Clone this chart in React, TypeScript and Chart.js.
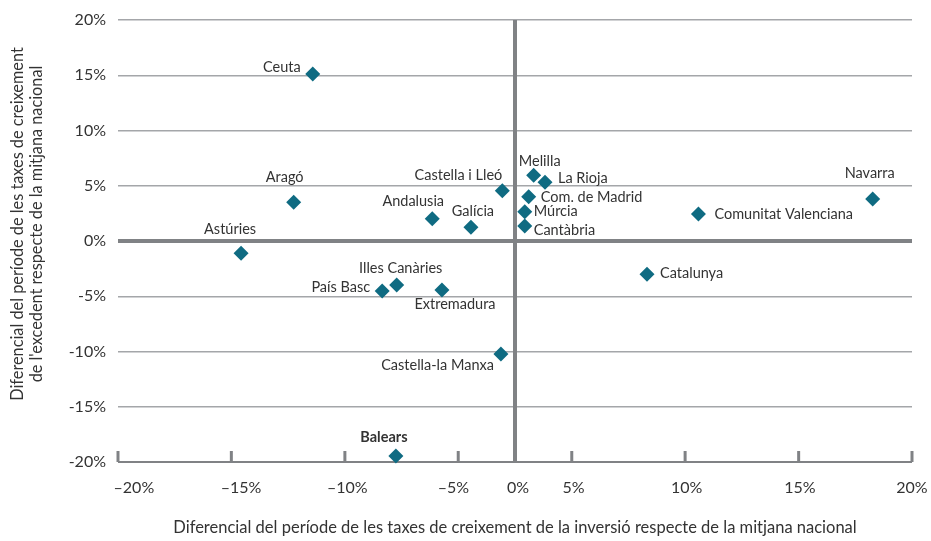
import React, { useEffect, useRef } from 'react';
import { Chart, registerables } from 'chart.js';

Chart.register(...registerables);

// ---- data ----
const regions = [
  'Ceuta', 'Aragó', 'Castella i Lleó', 'Andalusia', 'Galícia', 'Astúries',
  'Melilla', 'La Rioja', 'Com. de Madrid', 'Múrcia', 'Cantàbria',
  'Comunitat Valenciana', 'Navarra', 'Catalunya', 'Illes Canàries',
  'País Basc', 'Extremadura', 'Castella-la Manxa', 'Balears',
];
const investmentDiff = [
  -10.19, -11.15, -0.64, -4.17, -2.22, -13.8,
  0.94, 1.51, 0.69, 0.49, 0.49,
  9.24, 18.02, 6.65, -5.96,
  -6.69, -3.68, -0.71, -6.0,
];
const surplusDiff = [
  15.11, 3.5, 4.55, 2.02, 1.24, -1.11,
  5.95, 5.31, 4.01, 2.65, 1.36,
  2.44, 3.8, -3.02, -3.98,
  -4.52, -4.43, -10.23, -19.46,
];
const boldRegions = ['Balears'];

const yTickLabels = ['-20%', '-15%', '-10%', '-5%', '0%', '5%', '10%', '15%', '20%'];
const yTickValues = [-20, -15, -10, -5, 0, 5, 10, 15, 20];
const xTickLabels = ['–20%', '–15%', '–10%', '–5%', '0%', '5%', '10%', '15%', '20%'];
// where the x labels sit along the axis (as printed in the source)
const xLabelAt = [-19.2, -13.8, -8.45, -3.1, 0.15, 2.95, 8.65, 14.35, 20];
// where the small tick marks sit along the x axis
const xTickMarks = [-20, -14.29, -8.57, -2.86, 2.86, 8.57, 14.29, 20];

const xTitle = 'Diferencial del període de les taxes de creixement de la inversió respecte de la mitjana nacional';
const yTitle = [
  'Diferencial del període de les taxes de creixement',
  "de l'excedent respecte de la mitjana nacional",
];

// label placement: [align, dx, dy]
const labelLayout: [string, number, number][] = [
  ['end', -12, -7], ['center', -9, -25], ['end', 0, -15], ['center', -19, -17],
  ['center', 2, -16], ['center', -11, -24], ['center', 6, -14], ['start', 13, -4],
  ['start', 12, 1], ['start', 9, 0], ['start', 9, 4], ['start', 16, 0],
  ['center', -3, -26], ['start', 13, -1], ['center', 4, -17], ['end', -12, -4],
  ['center', 13, 14], ['end', -7, 11], ['center', -12, -19],
];

const FONT = 'Lato';
const TEXT = '#333333';
const GRID = '#a4a6a9';
const AXIS = '#808285';
const MARKER = '#0f6b82';

const decorPlugin = {
  id: 'decor',
  beforeDatasetsDraw(chart: any) {
    const { ctx, chartArea } = chart;
    const xs = chart.scales.x;
    ctx.save();
    ctx.strokeStyle = AXIS;
    ctx.lineWidth = 4;
    const x0 = xs.getPixelForValue(0);
    ctx.beginPath();
    ctx.moveTo(x0, chartArea.top);
    ctx.lineTo(x0, chartArea.bottom);
    ctx.stroke();
    ctx.lineWidth = 3;
    xTickMarks.forEach((v) => {
      const px = xs.getPixelForValue(v);
      ctx.beginPath();
      ctx.moveTo(px, chartArea.bottom);
      ctx.lineTo(px, chartArea.bottom - 11);
      ctx.stroke();
    });
    ctx.restore();
  },
  afterDatasetsDraw(chart: any) {
    const { ctx, chartArea } = chart;
    const meta = chart.getDatasetMeta(0);
    ctx.save();
    ctx.fillStyle = TEXT;
    ctx.textBaseline = 'middle';
    meta.data.forEach((el: any, i: number) => {
      const [align, dx, dy] = labelLayout[i];
      const bold = boldRegions.includes(regions[i]);
      ctx.font = `${bold ? 'bold ' : ''}14.5px ${FONT}`;
      ctx.textAlign = align === 'end' ? 'right' : align === 'start' ? 'left' : 'center';
      ctx.fillText(regions[i], el.x + dx, el.y + dy);
    });
    // y axis title (two rotated lines)
    const cy = (chartArea.top + chartArea.bottom) / 2 - 17;
    ctx.font = `16.3px ${FONT}`;
    ctx.textAlign = 'center';
    yTitle.forEach((line, i) => {
      ctx.save();
      ctx.translate(18 + i * 19, cy);
      ctx.rotate(-Math.PI / 2);
      ctx.fillText(line, 0, 0);
      ctx.restore();
    });
    ctx.restore();
  },
};

export default function App() {
  const ref = useRef<HTMLCanvasElement | null>(null);
  useEffect(() => {
    if (!ref.current) return;
    const chart = new Chart(ref.current, {
      type: 'scatter',
      data: {
        datasets: [
          {
            data: investmentDiff.map((x, i) => ({ x, y: surplusDiff[i] })),
            pointStyle: 'rectRot',
            pointRadius: 7.5,
            pointHoverRadius: 7.5,
            backgroundColor: MARKER,
            borderColor: MARKER,
            borderWidth: 0,
            clip: false as any,
          },
        ],
      },
      options: {
        animation: false,
        responsive: false,
        devicePixelRatio: 1,
        layout: { padding: { left: 0, right: 19, top: 20, bottom: 0 } },
        plugins: { legend: { display: false }, tooltip: { enabled: false } },
        events: [],
        scales: {
          x: {
            type: 'linear',
            min: -20,
            max: 20,
            afterBuildTicks: (s: any) => {
              s.ticks = xLabelAt.map((v) => ({ value: v }));
            },
            afterFit: (s: any) => {
              s.height = 79;
              s.paddingLeft = 0;
              s.paddingRight = 0;
            },
            ticks: {
              autoSkip: false,
              maxRotation: 0,
              padding: 16,
              color: TEXT,
              font: { family: FONT, size: 16 },
              callback: (_v: any, i: number) => xTickLabels[i],
            },
            grid: { display: false, drawTicks: false },
            border: { display: false },
            title: {
              display: true,
              text: xTitle,
              color: TEXT,
              font: { family: FONT, size: 16.5 },
              padding: { top: 0, bottom: 3 },
            },
          },
          y: {
            type: 'linear',
            min: -20,
            max: 20,
            afterBuildTicks: (s: any) => {
              s.ticks = yTickValues.map((v) => ({ value: v }));
            },
            afterFit: (s: any) => {
              s.width = 118;
              s.paddingTop = 0;
              s.paddingBottom = 0;
            },
            ticks: {
              padding: 12,
              color: TEXT,
              font: { family: FONT, size: 16 },
              callback: (_v: any, i: number) => yTickLabels[i],
            },
            grid: {
              drawTicks: false,
              color: (c: any) => (c.tick && (c.tick.value === 0 || c.tick.value === -20) ? AXIS : GRID),
              lineWidth: (c: any) => (c.tick && c.tick.value === 0 ? 4 : c.tick && c.tick.value === -20 ? 2 : 1.5),
            },
            border: { display: false },
            title: { display: false },
          },
        },
      },
      plugins: [decorPlugin],
    });
    return () => chart.destroy();
  }, []);
  return (
    <div style={{ position: 'fixed', left: 0, top: 0, width: 931, height: 541, background: '#fff' }}>
      <canvas ref={ref} width={931} height={541} />
    </div>
  );
}
